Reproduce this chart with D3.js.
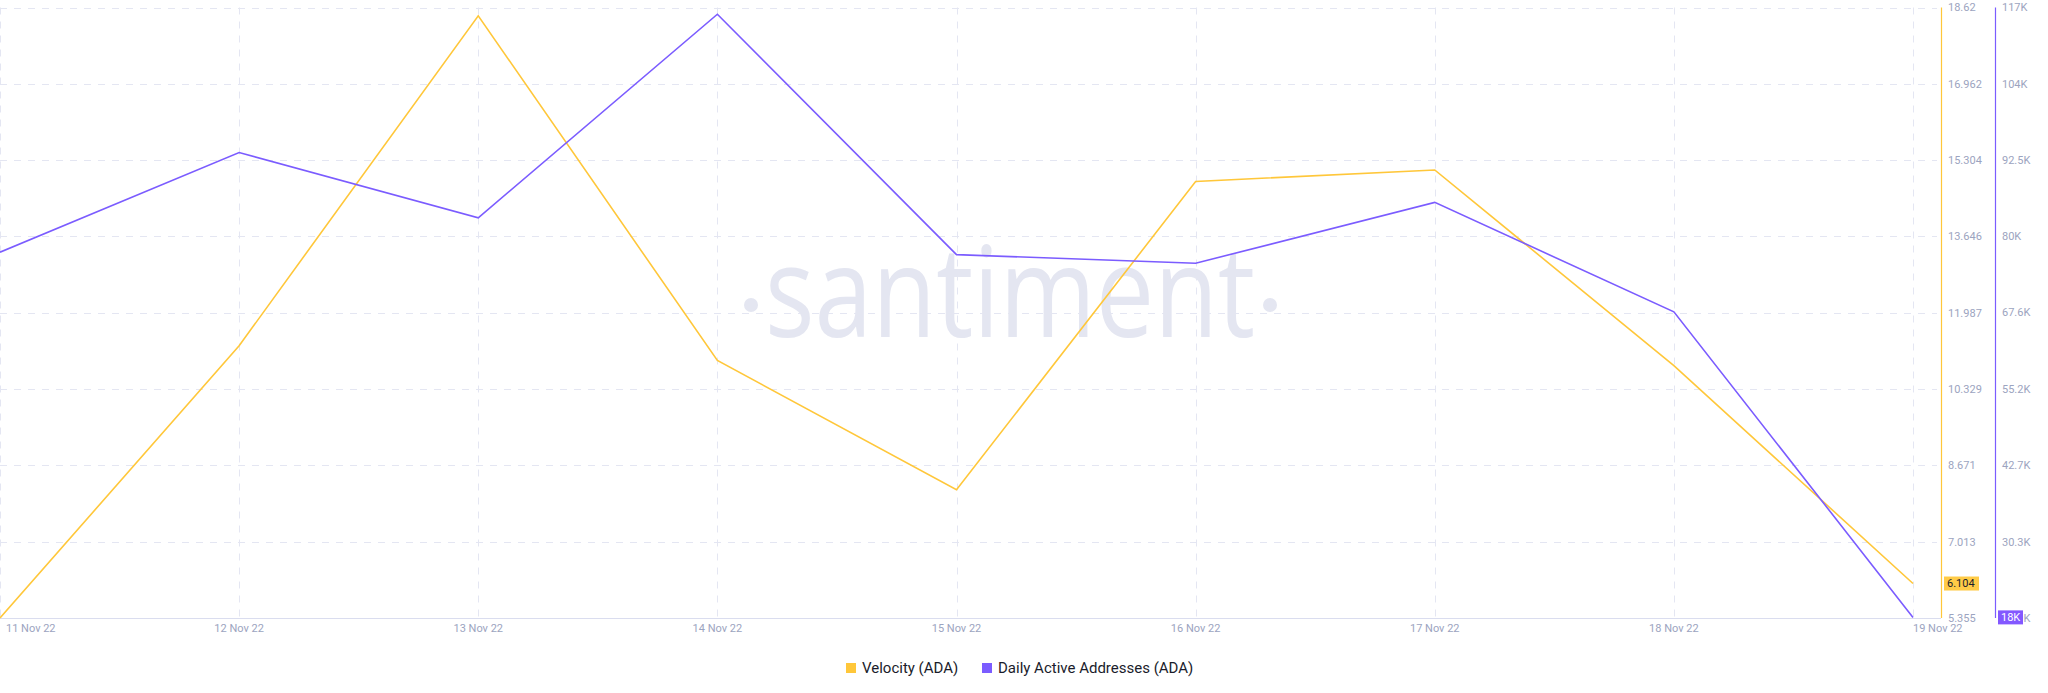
<!DOCTYPE html>
<html>
<head>
<meta charset="utf-8">
<script src="https://cdn.jsdelivr.net/npm/d3@7"></script>
<style>
  html, body { margin: 0; padding: 0; background: #ffffff; }
  svg { display: block; }
</style>
</head>
<body>
<svg id="chart" width="2048" height="693"></svg>
<script>
// ---- data ----
const dates = ["11 Nov 22", "12 Nov 22", "13 Nov 22", "14 Nov 22", "15 Nov 22", "16 Nov 22", "17 Nov 22", "18 Nov 22", "19 Nov 22"];
const velocity = [5.355, 11.27, 18.44, 10.95, 8.14, 14.84, 15.09, 10.84, 6.104];
const activeAddresses = [77.4, 93.6, 83.0, 116.1, 77.0, 75.6, 85.5, 67.7, 18.0]; // thousands
const velocityTicks = [5.355, 7.013, 8.671, 10.329, 11.987, 13.646, 15.304, 16.962, 18.62];
const velocityTickLabels = ["5.355", "7.013", "8.671", "10.329", "11.987", "13.646", "15.304", "16.962", "18.62"];
const addrTicks = [17.9, 30.3, 42.7, 55.2, 67.6, 80.0, 92.4, 104.8, 117.2];
const addrTickLabels = ["17.9K", "30.3K", "42.7K", "55.2K", "67.6K", "80K", "92.5K", "104K", "117K"];
const seriesNames = ["Velocity (ADA)", "Daily Active Addresses (ADA)"];
const lastVelocityLabel = "6.104";
const lastAddrLabel = "18K";

(function () {
// ---- styles ----
const YELLOW = "#FFC73A";
const PURPLE = "#7B5CFF";
const AXIS_TXT = "#9CA4C0";
const GRID = "#E4E6F2";
const FONT = "Roboto, 'Liberation Sans', Arial, sans-serif";

const svg = d3.select("#chart");
const plotTop = 7.5, plotBottom = 618, plotLeft = 0, plotRight = 1913;
const yAxisX = 1941, y2AxisX = 1995;

const x = d3.scalePoint().domain(dates).range([plotLeft, plotRight]);
const yV = d3.scaleLinear().domain([velocityTicks[0], velocityTicks[velocityTicks.length - 1]]).range([plotBottom, plotTop]);
const yA = d3.scaleLinear().domain([addrTicks[0], addrTicks[addrTicks.length - 1]]).range([plotBottom, plotTop]);

// grid: horizontal
svg.append("g").selectAll("line").data(velocityTicks.slice(1)).join("line")
  .attr("x1", plotLeft).attr("x2", yAxisX - 4)
  .attr("y1", d => Math.round(yV(d)) + 0.5).attr("y2", d => Math.round(yV(d)) + 0.5)
  .attr("stroke", GRID).attr("stroke-width", 1).attr("stroke-dasharray", "7,7");
// grid: vertical
svg.append("g").selectAll("line").data(dates).join("line")
  .attr("x1", d => Math.round(x(d)) + 0.5).attr("x2", d => Math.round(x(d)) + 0.5)
  .attr("y1", plotTop).attr("y2", plotBottom)
  .attr("stroke", GRID).attr("stroke-width", 1).attr("stroke-dasharray", "7,7");

// watermark
const wm = svg.append("g").attr("fill", "#E4E6F1");
wm.append("text")
  .attr("x", 1010).attr("y", 337)
  .attr("text-anchor", "middle")
  .attr("font-family", "'Open Sans', 'Noto Sans', sans-serif")
  .attr("font-weight", 400)
  .attr("font-size", 126)
  .attr("textLength", 490).attr("lengthAdjust", "spacingAndGlyphs")
  .text("santiment");
wm.append("circle").attr("cx", 751).attr("cy", 305).attr("r", 7);
wm.append("circle").attr("cx", 1270).attr("cy", 305).attr("r", 7);

// x axis baseline
svg.append("line")
  .attr("x1", plotLeft).attr("x2", yAxisX).attr("y1", plotBottom + 0.5).attr("y2", plotBottom + 0.5)
  .attr("stroke", "#DADDEF").attr("stroke-width", 1);

// x tick labels
svg.append("g").selectAll("text").data(dates).join("text")
  .attr("x", (d, i) => i === 0 ? x(d) + 6 : x(d))
  .attr("y", 632)
  .attr("text-anchor", (d, i) => i === 0 || i === dates.length - 1 ? "start" : "middle")
  .attr("font-family", FONT).attr("font-size", 11).attr("fill", AXIS_TXT)
  .text(d => d);

// right axis lines
svg.append("line").attr("x1", yAxisX + 0.5).attr("x2", yAxisX + 0.5).attr("y1", plotTop).attr("y2", plotBottom)
  .attr("stroke", YELLOW).attr("stroke-width", 1.2);
svg.append("line").attr("x1", y2AxisX + 0.5).attr("x2", y2AxisX + 0.5).attr("y1", plotTop).attr("y2", plotBottom)
  .attr("stroke", PURPLE).attr("stroke-width", 1.2);

// y tick labels
svg.append("g").selectAll("text").data(velocityTicks).join("text")
  .attr("x", yAxisX + 7).attr("y", d => yV(d)).attr("dy", "0.35em")
  .attr("font-family", FONT).attr("font-size", 11).attr("fill", AXIS_TXT)
  .text((d, i) => velocityTickLabels[i]);
svg.append("g").selectAll("text").data(addrTicks).join("text")
  .attr("x", y2AxisX + 7).attr("y", d => yA(d)).attr("dy", "0.35em")
  .attr("font-family", FONT).attr("font-size", 11).attr("fill", AXIS_TXT)
  .text((d, i) => addrTickLabels[i]);

// lines
svg.append("path").datum(velocity)
  .attr("fill", "none").attr("stroke", YELLOW).attr("stroke-width", 1.6)
  .attr("d", d3.line().x((d, i) => x(dates[i])).y(d => yV(d)));
svg.append("path").datum(activeAddresses)
  .attr("fill", "none").attr("stroke", PURPLE).attr("stroke-width", 1.6)
  .attr("d", d3.line().x((d, i) => x(dates[i])).y(d => yA(d)));

// last value badges
const vLast = velocity[velocity.length - 1];
const vb = svg.append("g");
vb.append("rect").attr("x", yAxisX + 3).attr("y", yV(vLast) - 7).attr("width", 35).attr("height", 14).attr("fill", "#FFCB47");
vb.append("text").attr("x", yAxisX + 6).attr("y", yV(vLast)).attr("dy", "0.35em")
  .attr("font-family", FONT).attr("font-size", 11).attr("fill", "#1A1C2B").text(lastVelocityLabel);

const aLast = activeAddresses[activeAddresses.length - 1];
const ab = svg.append("g");
ab.append("rect").attr("x", y2AxisX + 3).attr("y", yA(aLast) - 7).attr("width", 25).attr("height", 14).attr("fill", "#8358FF");
ab.append("text").attr("x", y2AxisX + 6).attr("y", yA(aLast)).attr("dy", "0.35em")
  .attr("font-family", FONT).attr("font-size", 11).attr("fill", "#FFFFFF").text(lastAddrLabel);

// legend
const legend = svg.append("g");
const legendItems = [
  { name: seriesNames[0], color: YELLOW, x: 846 },
  { name: seriesNames[1], color: PURPLE, x: 982 }
];
legendItems.forEach(it => {
  legend.append("rect").attr("x", it.x).attr("y", 663).attr("width", 10).attr("height", 10).attr("fill", it.color);
  legend.append("text").attr("x", it.x + 16).attr("y", 668).attr("dy", "0.35em")
    .attr("font-family", FONT).attr("font-size", 15).attr("fill", "#1A1C2B").text(it.name);
});
})();
</script>
</body>
</html>
